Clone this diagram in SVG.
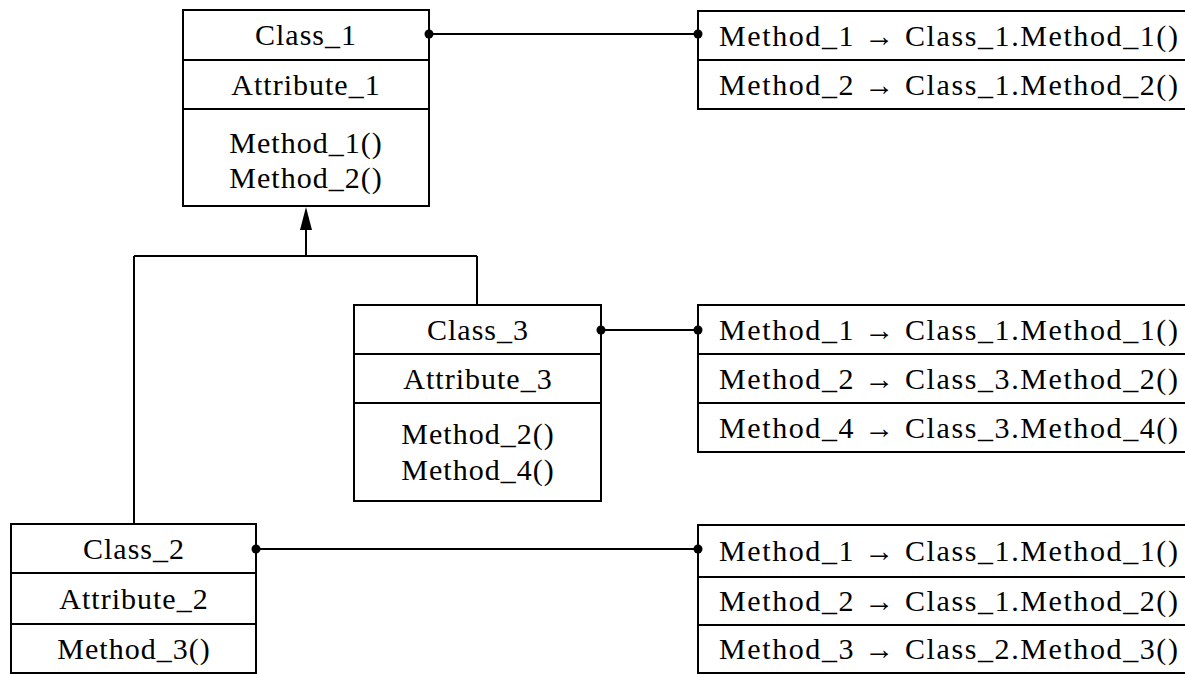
<svg xmlns="http://www.w3.org/2000/svg" width="1185" height="674" viewBox="0 0 1185 674">
<defs>
<style>
.box{fill:#fff;stroke:#000;stroke-width:2}
.ln{stroke:#000;stroke-width:2;fill:none}
.t{font-family:"Liberation Serif","Times New Roman",serif;font-size:30px;fill:#000;letter-spacing:1px}
.r{letter-spacing:1.6px}
.c{text-anchor:middle}
.dot{fill:#000}
</style>
</defs>
<rect width="1185" height="674" fill="#fff"/>

<g id="class1">
<rect class="box" x="183" y="10" width="246" height="196"/>
<line class="ln" x1="183" y1="60" x2="429" y2="60"/>
<line class="ln" x1="183" y1="109" x2="429" y2="109"/>
<text class="t c" x="306" y="45">Class_1</text>
<text class="t c" x="306" y="95">Attribute_1</text>
<text class="t c" x="306" y="153">Method_1()</text>
<text class="t c" x="306" y="188">Method_2()</text>
</g>

<g id="class3">
<rect class="box" x="354" y="305" width="247" height="196"/>
<line class="ln" x1="354" y1="354" x2="601" y2="354"/>
<line class="ln" x1="354" y1="403" x2="601" y2="403"/>
<text class="t c" x="478" y="340">Class_3</text>
<text class="t c" x="478" y="389">Attribute_3</text>
<text class="t c" x="478" y="444">Method_2()</text>
<text class="t c" x="478" y="480">Method_4()</text>
</g>

<g id="class2">
<rect class="box" x="11" y="524" width="245" height="149"/>
<line class="ln" x1="11" y1="573" x2="256" y2="573"/>
<line class="ln" x1="11" y1="624" x2="256" y2="624"/>
<text class="t c" x="134" y="559">Class_2</text>
<text class="t c" x="134" y="609">Attribute_2</text>
<text class="t c" x="134" y="659">Method_3()</text>
</g>

<g id="table1">
<rect class="box" x="698" y="11" width="500" height="98"/>
<line class="ln" x1="698" y1="60" x2="1185" y2="60"/>
<text class="t r" x="719" y="46">Method_1 → Class_1.Method_1()</text>
<text class="t r" x="719" y="95">Method_2 → Class_1.Method_2()</text>
</g>

<g id="table2">
<rect class="box" x="698" y="305" width="500" height="147"/>
<line class="ln" x1="698" y1="354" x2="1185" y2="354"/>
<line class="ln" x1="698" y1="403" x2="1185" y2="403"/>
<text class="t r" x="719" y="340">Method_1 → Class_1.Method_1()</text>
<text class="t r" x="719" y="389">Method_2 → Class_3.Method_2()</text>
<text class="t r" x="719" y="438">Method_4 → Class_3.Method_4()</text>
</g>

<g id="table3">
<rect class="box" x="698" y="525" width="500" height="148"/>
<line class="ln" x1="698" y1="577" x2="1185" y2="577"/>
<line class="ln" x1="698" y1="625" x2="1185" y2="625"/>
<text class="t r" x="719" y="561">Method_1 → Class_1.Method_1()</text>
<text class="t r" x="719" y="611">Method_2 → Class_1.Method_2()</text>
<text class="t r" x="719" y="659">Method_3 → Class_2.Method_3()</text>
</g>

<g id="connectors">
<path class="ln" d="M306,228 L306,256 M134,256 L477,256 M134,256 L134,524 M477,256 L477,305"/>
<path d="M306,207 L312,230 L300,230 Z" fill="#000"/>
<line class="ln" x1="429" y1="34" x2="698" y2="34"/>
<line class="ln" x1="601" y1="330" x2="698" y2="330"/>
<line class="ln" x1="256" y1="549" x2="698" y2="549"/>
<circle class="dot" cx="429" cy="34" r="4.5"/>
<circle class="dot" cx="698" cy="34" r="4.5"/>
<circle class="dot" cx="601" cy="330" r="4.5"/>
<circle class="dot" cx="698" cy="330" r="4.5"/>
<circle class="dot" cx="256" cy="549" r="4.5"/>
<circle class="dot" cx="698" cy="549" r="4.5"/>
</g>
</svg>
